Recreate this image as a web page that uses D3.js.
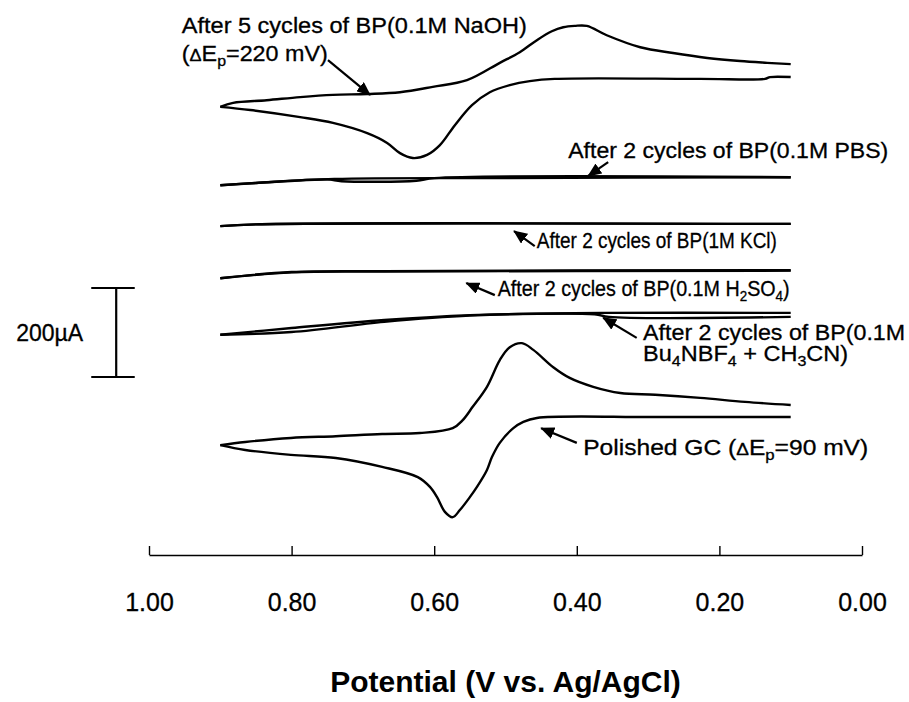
<!DOCTYPE html>
<html><head><meta charset="utf-8">
<script src="https://cdn.jsdelivr.net/npm/d3@7"></script>
<style>
body{margin:0;background:#fff}
text{font-family:"Liberation Sans",Arial,Helvetica,sans-serif;fill:#000}
</style></head><body>
<script>
var width = 909, height = 702;

// [potential (V), current (uA)] - currents carry the vertical stacking offset of the figure
var naohFwd = [[0.900,607],[0.882,616],[0.835,622],[0.788,629],[0.742,634],[0.694,636],[0.648,640],[0.602,652],[0.554,667],[0.508,706],[0.480,730],[0.456,757],[0.435,777],[0.419,786],[0.403,789],[0.386,789],[0.358,768],[0.311,741],[0.265,728],[0.217,717],[0.171,710],[0.133,706],[0.100,703]];
var naohRev = [[0.100,674],[0.129,674],[0.136,670],[0.227,670],[0.431,670],[0.466,665],[0.494,656],[0.522,640],[0.547,611],[0.571,566],[0.592,521],[0.610,499],[0.630,492],[0.648,503],[0.666,526],[0.694,548],[0.742,571],[0.788,584],[0.858,600],[0.900,607]];
var pbsFwd = [[0.900,431],[0.850,436],[0.740,445],[0.500,447],[0.100,449]];
var pbsRev = [[0.100,449],[0.600,447],[0.625,441],[0.730,440],[0.750,444],[0.850,436],[0.900,431]];
var kclFwd = [[0.900,339],[0.850,343],[0.100,344]];
var kclRev = [[0.100,344],[0.850,343],[0.900,339]];
var h2so4Fwd = [[0.900,222],[0.800,236],[0.670,238],[0.100,240]];
var h2so4Rev = [[0.100,239],[0.670,237],[0.800,235],[0.900,222]];
var bu4nFwd = [[0.900,95],[0.800,110],[0.670,128],[0.550,139],[0.360,144],[0.100,144]];
var bu4nRev = [[0.100,135],[0.355,135],[0.375,141],[0.550,138],[0.670,124],[0.800,101],[0.900,95]];
var gcFwd = [[0.900,-153],[0.865,-146],[0.801,-137],[0.738,-133],[0.673,-128],[0.620,-126],[0.574,-115],[0.560,-97],[0.546,-67],[0.526,-22],[0.508,38],[0.494,67],[0.477,76],[0.461,61],[0.433,22],[0.410,-2],[0.377,-22],[0.339,-36],[0.290,-40],[0.227,-47],[0.164,-56],[0.100,-63]];
var gcRev = [[0.100,-90],[0.290,-90],[0.456,-92],[0.475,-101],[0.489,-115],[0.508,-148],[0.519,-180],[0.526,-209],[0.540,-247],[0.550,-270],[0.564,-299],[0.574,-315],[0.585,-303],[0.596,-270],[0.606,-247],[0.623,-225],[0.673,-202],[0.738,-182],[0.801,-175],[0.865,-164],[0.900,-153]];

var branches = [naohFwd, naohRev, pbsFwd, pbsRev, kclFwd, kclRev, h2so4Fwd, h2so4Rev, bu4nFwd, bu4nRev, gcFwd, gcRev];

var tickValues = [1.00, 0.80, 0.60, 0.40, 0.20, 0.00];
var xTitle = "Potential (V vs. Ag/AgCl)";
var scaleBar = {E: 1.046, from: 0, to: 200, label: "200\u00b5A"};

// label texts (sub = subscript, small = smaller glyph)
var labelTexts = [
  ["After 5 cycles of BP(0.1M NaOH)"],
  ["(", {t:"\u0394", small:1}, "E", {t:"p", sub:1}, "=220 mV)"],
  ["After 2 cycles of BP(0.1M PBS)"],
  ["After 2 cycles of BP(1M KCl)"],
  ["After 2 cycles of BP(0.1M H", {t:"2", sub:1}, "SO", {t:"4", sub:1}, ")"],
  ["After 2 cycles of BP(0.1M"],
  ["Bu", {t:"4", sub:1}, "NBF", {t:"4", sub:1}, " + CH", {t:"3", sub:1}, "CN)"],
  ["Polished GC (", {t:"\u0394", small:1}, "E", {t:"p", sub:1}, "=90 mV)"]
];
// where each label starts: [V, uA] of its baseline start, and its width in px
var labelPos = [
  [0.954, 773, 345],
  [0.954, 710, 146],
  [0.412, 492, 320],
  [0.456, 290, 240],
  [0.511, 182, 292],
  [0.307, 83, 262],
  [0.307, 36, 205],
  [0.391, -175, 285]
];
// arrows: [tail, head] in [V, uA]
var arrows = [
  [[0.749,712],[0.690,634]],
  [[0.356,483],[0.384,452]],
  [[0.459,294],[0.488,328]],
  [[0.515,184],[0.555,211]],
  [[0.316,88],[0.363,133]],
  [[0.400,-148],[0.450,-115]]
];

var x = d3.scaleLinear().domain([1, 0]).range([149, 862]);
var y = d3.scaleLinear().domain([0, 200]).range([377, 288]);

var svg = d3.select("body").append("svg")
    .attr("width", width)
    .attr("height", height);

svg.append("defs").append("marker")
    .attr("id", "head")
    .attr("markerUnits", "userSpaceOnUse")
    .attr("markerWidth", 14).attr("markerHeight", 12)
    .attr("refX", 13).attr("refY", 6)
    .attr("orient", "auto")
  .append("path")
    .attr("d", "M0,0 L14,6 L0,12 Z")
    .attr("fill", "#000");

var line = d3.line()
    .x(function(d) { return x(d[0]); })
    .y(function(d) { return y(d[1]); })
    .curve(d3.curveCatmullRom.alpha(0.5));

svg.append("g").selectAll("path")
    .data(branches)
    .enter().append("path")
    .attr("d", line)
    .attr("fill", "none")
    .attr("stroke", "#000")
    .attr("stroke-width", 2.4)
    .attr("stroke-linejoin", "round");

// potential axis, ticks pointing up
var axisY = y(-400);
var ax = svg.append("g")
    .attr("transform", "translate(0," + axisY + ")")
    .call(d3.axisBottom(x)
        .tickValues(tickValues)
        .tickFormat(d3.format(".2f"))
        .tickSizeInner(-9)
        .tickSizeOuter(0)
        .tickPadding(38));
ax.select(".domain").attr("stroke-width", 1.6);
ax.selectAll(".tick line").attr("stroke-width", 1.4);
ax.selectAll(".tick text")
    .style("font-family", "'Liberation Sans', Arial, sans-serif")
    .attr("font-size", 25)
    .attr("fill", "#000")
    .attr("stroke", "#000")
    .attr("stroke-width", 0.3);

svg.append("text")
    .attr("x", (x(1) + x(0)) / 2)
    .attr("y", 692)
    .attr("text-anchor", "middle")
    .attr("font-size", 30)
    .attr("font-weight", "bold")
    .text(xTitle);

// 200 uA scale bar
var sb = svg.append("g").attr("stroke", "#000").attr("stroke-width", 2.2);
sb.append("line")
    .attr("x1", x(scaleBar.E)).attr("x2", x(scaleBar.E))
    .attr("y1", y(scaleBar.from)).attr("y2", y(scaleBar.to));
[scaleBar.from, scaleBar.to].forEach(function(v) {
  sb.append("line")
    .attr("x1", x(scaleBar.E + 0.035)).attr("x2", x(scaleBar.E - 0.026))
    .attr("y1", y(v)).attr("y2", y(v));
});
svg.append("text")
    .attr("x", x(scaleBar.E) - 33)
    .attr("y", (y(scaleBar.from) + y(scaleBar.to)) / 2 + 8)
    .attr("text-anchor", "end")
    .attr("font-size", 23)
    .attr("stroke", "#000")
    .attr("stroke-width", 0.3)
    .text(scaleBar.label);

// annotations
svg.append("g").selectAll("line")
    .data(arrows)
    .enter().append("line")
    .attr("x1", function(d) { return x(d[0][0]); })
    .attr("y1", function(d) { return y(d[0][1]); })
    .attr("x2", function(d) { return x(d[1][0]); })
    .attr("y2", function(d) { return y(d[1][1]); })
    .attr("stroke", "#000")
    .attr("stroke-width", 2.2)
    .attr("marker-end", "url(#head)");

labelTexts.forEach(function(parts, i) {
  var p0 = labelPos[i];
  var t = svg.append("text")
      .attr("x", x(p0[0]))
      .attr("y", y(p0[1]))
      .attr("font-size", 22)
      .attr("stroke", "#000")
      .attr("stroke-width", 0.3)
      .attr("textLength", p0[2])
      .attr("lengthAdjust", "spacingAndGlyphs");
  var shift = 0;
  parts.forEach(function(p) {
    if (typeof p === "string") p = {t: p};
    var want = p.sub ? 5 : 0;
    var ts = t.append("tspan").text(p.t).attr("dy", want - shift);
    shift = want;
    if (p.sub) ts.attr("font-size", 15);
    if (p.small) ts.attr("font-size", 17);
  });
});
</script>
</body></html>
